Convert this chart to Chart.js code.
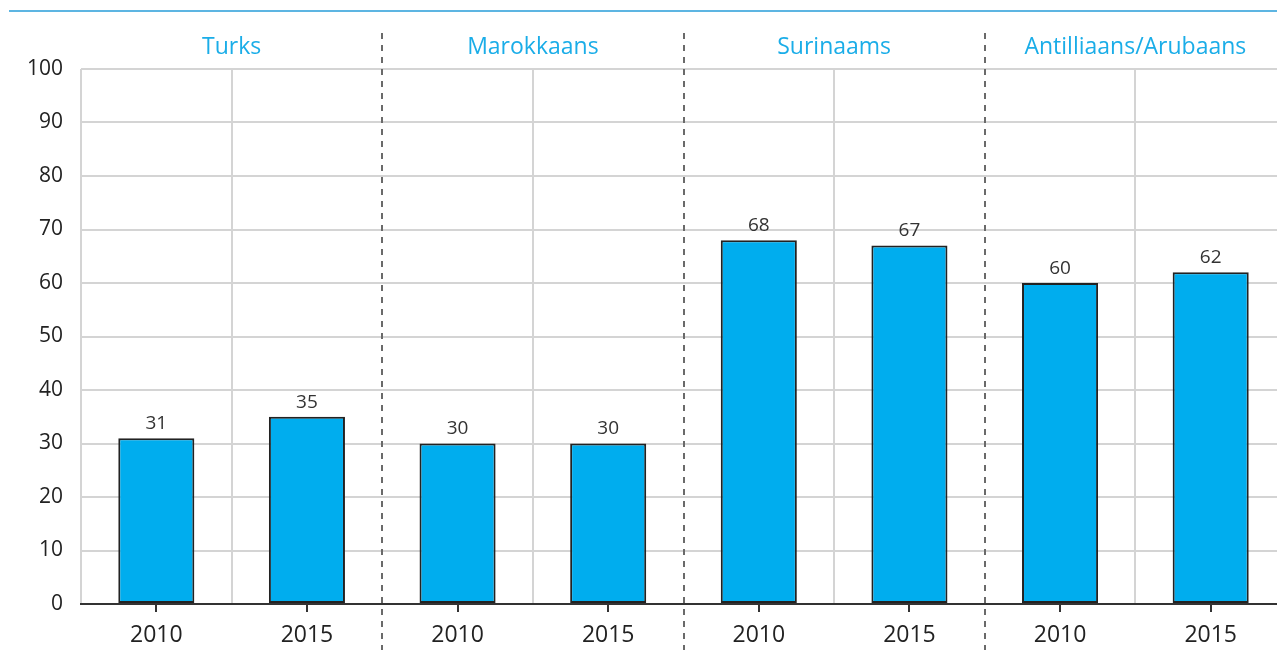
<!DOCTYPE html>
<html lang="nl">
<head>
    <meta charset="UTF-8">
    <title>Turks, Marokkaans, Surinaams, Antilliaans/Arubaans</title>
    <script src="https://cdn.jsdelivr.net/npm/chart.js@4.4.1/dist/chart.umd.min.js"></script>
    <style>
        html, body { margin: 0; padding: 0; background: #fff; overflow: hidden; }
        #wrap { width: 1277px; height: 669px; position: relative; overflow: hidden; }
    </style>
</head>
<body>
<div id="wrap">
    <!-- plot runs a bit past the right edge, like the original -->
    <canvas id="chart" width="1286" height="669"></canvas>
</div>

<script>
    // data
    var groups = ['Turks', 'Marokkaans', 'Surinaams', 'Antilliaans/Arubaans'];
    var years = ['2010', '2015'];
    var values = [31, 35, 30, 30, 68, 67, 60, 62];
    var yTicks = [0, 10, 20, 30, 40, 50, 60, 70, 80, 90, 100];

    var labels = [];
    groups.forEach(function () {
        years.forEach(function (y) { labels.push(y); });
    });

    var FONT = '"Open Sans", "Noto Sans", sans-serif';

    // top line, group titles, dashed separators, tick marks, value labels
    var extras = {
        id: 'extras',
        afterDraw: function (chart) {
            var ctx = chart.ctx;
            var x = chart.scales.x;
            var area = chart.chartArea;
            var n = years.length;

            ctx.save();

            // blue rule on top
            ctx.strokeStyle = '#5db5e2';
            ctx.lineWidth = 2;
            ctx.beginPath();
            ctx.moveTo(9, 11);
            ctx.lineTo(chart.width, 11);
            ctx.stroke();

            // dashed separators between groups
            ctx.strokeStyle = '#6a6a6a';
            ctx.lineWidth = 2;
            ctx.setLineDash([6, 6]);
            for (var g = 1; g < groups.length; g++) {
                var sx = Math.round((x.getPixelForValue(g * n - 1) + x.getPixelForValue(g * n)) / 2);
                ctx.beginPath();
                ctx.moveTo(sx, 33);
                ctx.lineTo(sx, 650);
                ctx.stroke();
            }
            ctx.setLineDash([]);

            // group titles
            ctx.fillStyle = '#1aade8';
            ctx.font = '23px ' + FONT;
            ctx.textAlign = 'center';
            ctx.textBaseline = 'middle';
            groups.forEach(function (name, g) {
                var cx = (x.getPixelForValue(g * n) + x.getPixelForValue(g * n + n - 1)) / 2;
                ctx.fillText(name, cx, 47);
            });

            // tick marks under the baseline
            ctx.strokeStyle = '#333';
            ctx.lineWidth = 2;
            labels.forEach(function (l, i) {
                var tx = Math.round(x.getPixelForValue(i));
                ctx.beginPath();
                ctx.moveTo(tx, area.bottom);
                ctx.lineTo(tx, area.bottom + 8);
                ctx.stroke();
            });

            // value labels
            ctx.fillStyle = '#333';
            ctx.font = '19px ' + FONT;
            ctx.textBaseline = 'bottom';
            chart.getDatasetMeta(0).data.forEach(function (bar, i) {
                ctx.fillText(values[i], bar.x, bar.y - 5);
            });

            ctx.restore();
        }
    };

    new Chart(document.getElementById('chart'), {
        type: 'bar',
        data: {
            labels: labels,
            datasets: [{
                data: values,
                backgroundColor: '#00adee',
                borderColor: '#222',
                borderWidth: 2,
                borderSkipped: false,
                barPercentage: 0.505,
                categoryPercentage: 1.0
            }]
        },
        options: {
            responsive: false,
            animation: false,
            layout: { padding: { top: 69, right: 0, left: 0, bottom: 0 } },
            plugins: {
                legend: { display: false },
                tooltip: { enabled: false }
            },
            scales: {
                x: {
                    offset: true,
                    grid: {
                        offset: true,
                        drawTicks: false,
                        color: function (c) {
                            return (c.index > 0 && c.index % years.length === 0) ? 'rgba(0,0,0,0)' : '#d4d4d4';
                        },
                        lineWidth: 2
                    },
                    border: { display: true, color: '#333', width: 2 },
                    ticks: {
                        color: '#222',
                        font: { family: FONT, size: 23 },
                        padding: 18
                    },
                    afterFit: function (s) { s.height = 65; }
                },
                y: {
                    min: 0,
                    max: 100,
                    afterBuildTicks: function (s) {
                        s.ticks = yTicks.map(function (v) { return { value: v }; });
                    },
                    grid: { color: '#d4d4d4', lineWidth: 2, drawTicks: false },
                    border: { display: false },
                    ticks: {
                        color: '#222',
                        font: { family: FONT, size: 21 },
                        padding: 18
                    },
                    afterFit: function (s) { s.width = 81; }
                }
            }
        },
        plugins: [extras]
    });
</script>
</body>
</html>
